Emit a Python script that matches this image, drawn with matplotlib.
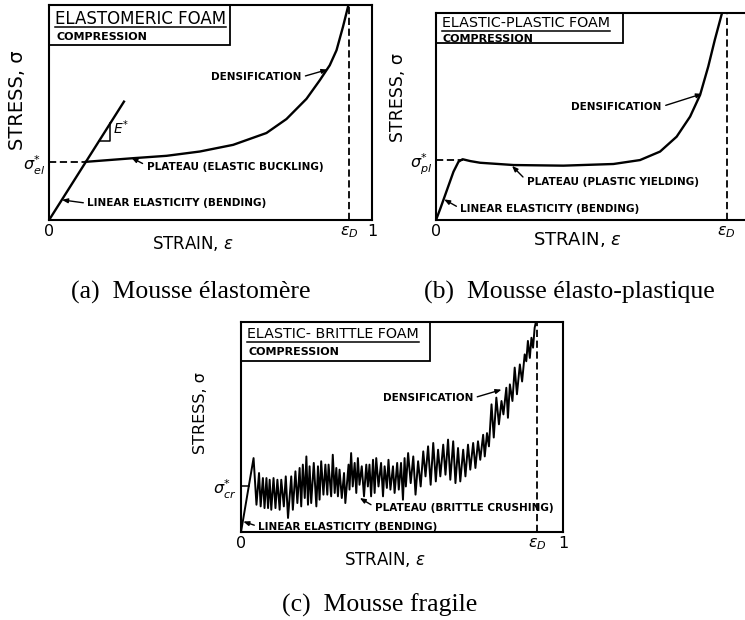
import matplotlib
matplotlib.use('Agg')
import matplotlib.pyplot as plt
from matplotlib.patches import Rectangle

plt.rcParams['font.family'] = ['DejaVu Sans']
plt.rcParams['mathtext.fontset'] = 'dejavusans'

# ---- (a) mousse élastomère ----
a_lin_x = [0.0, 0.232]
a_lin_y = [0.0, 0.551]
a_x = [0.114, 0.261, 0.364, 0.467, 0.570, 0.673, 0.735, 0.797, 0.838, 0.869, 0.890, 0.910, 0.926]
a_y = [0.271, 0.288, 0.299, 0.319, 0.350, 0.405, 0.470, 0.564, 0.650, 0.720, 0.790, 0.899, 0.995]
a_sigma = 0.271
a_epsd = 0.929

# ---- (b) mousse élasto-plastique ----
b_x = [0.0, 0.014, 0.035, 0.056, 0.072, 0.085, 0.110, 0.141, 0.248, 0.407, 0.567, 0.652,
       0.716, 0.769, 0.812, 0.844, 0.870, 0.891, 0.913]
b_y = [0.0, 0.056, 0.145, 0.234, 0.282, 0.294, 0.285, 0.277, 0.266, 0.263, 0.271, 0.290,
       0.331, 0.403, 0.500, 0.605, 0.742, 0.871, 0.995]
b_sigma = 0.29
b_epsd = 0.929

# ---- (c) mousse fragile (courbe en dents de scie) ----
c_x = [0.000, 0.039, 0.048, 0.056, 0.061, 0.068, 0.073, 0.079, 0.084, 0.089, 0.094, 0.101,
       0.107, 0.113, 0.120, 0.125, 0.133, 0.139, 0.146, 0.156, 0.161, 0.169, 0.175, 0.182,
       0.187, 0.192, 0.198, 0.203, 0.208, 0.213, 0.218, 0.226, 0.234, 0.239, 0.244, 0.249,
       0.256, 0.262, 0.268, 0.272, 0.280, 0.285, 0.291, 0.296, 0.301, 0.306, 0.313, 0.320,
       0.324, 0.334, 0.337, 0.342, 0.347, 0.353, 0.358, 0.363, 0.368, 0.375, 0.382, 0.389,
       0.394, 0.399, 0.404, 0.410, 0.415, 0.420, 0.427, 0.435, 0.441, 0.446, 0.453, 0.458,
       0.464, 0.472, 0.477, 0.485, 0.490, 0.497, 0.503, 0.508, 0.512, 0.519, 0.527, 0.535,
       0.542, 0.550, 0.558, 0.566, 0.573, 0.581, 0.589, 0.597, 0.605, 0.612, 0.619, 0.628,
       0.635, 0.643, 0.650, 0.659, 0.666, 0.674, 0.681, 0.690, 0.697, 0.705, 0.712, 0.721,
       0.728, 0.736, 0.743, 0.752, 0.757, 0.764, 0.770, 0.778, 0.785, 0.793, 0.801, 0.809,
       0.815, 0.824, 0.829, 0.835, 0.843, 0.850, 0.857, 0.866, 0.873, 0.881, 0.886, 0.891,
       0.897, 0.902, 0.907, 0.912, 0.920]
c_y = [0.000, 0.352, 0.130, 0.281, 0.122, 0.257, 0.114, 0.257, 0.114, 0.249, 0.106, 0.257,
       0.114, 0.249, 0.106, 0.249, 0.122, 0.265, 0.067, 0.265, 0.106, 0.289, 0.138, 0.305,
       0.122, 0.321, 0.162, 0.360, 0.130, 0.313, 0.138, 0.329, 0.122, 0.313, 0.154, 0.337,
       0.178, 0.321, 0.178, 0.321, 0.170, 0.368, 0.186, 0.305, 0.170, 0.297, 0.162, 0.281,
       0.138, 0.321, 0.202, 0.376, 0.217, 0.329, 0.186, 0.352, 0.225, 0.313, 0.170, 0.321,
       0.217, 0.321, 0.170, 0.344, 0.186, 0.352, 0.217, 0.329, 0.170, 0.313, 0.210, 0.344,
       0.202, 0.313, 0.186, 0.329, 0.202, 0.329, 0.154, 0.352, 0.217, 0.376, 0.233, 0.360,
       0.178, 0.337, 0.217, 0.384, 0.265, 0.408, 0.225, 0.424, 0.241, 0.392, 0.265, 0.416,
       0.273, 0.440, 0.249, 0.432, 0.233, 0.400, 0.241, 0.392, 0.265, 0.416, 0.297, 0.424,
       0.305, 0.432, 0.344, 0.463, 0.360, 0.471, 0.408, 0.608, 0.450, 0.640, 0.513, 0.624,
       0.560, 0.687, 0.544, 0.703, 0.624, 0.783, 0.656, 0.798, 0.717, 0.846, 0.813, 0.910,
       0.829, 0.925, 0.878, 0.973, 1.030]
c_sigma = 0.217
c_epsd = 0.92

LW = 1.7
ARROW = dict(arrowstyle='-|>,head_length=0.45,head_width=0.18', lw=1.0, color='black',
             shrinkA=1, shrinkB=0)

fig = plt.figure(figsize=(7.45, 6.2), dpi=100)
ax_a = fig.add_axes([0.0658, 0.645, 0.4336, 0.3468])
ax_b = fig.add_axes([0.5852, 0.645, 0.4201, 0.3339])
ax_c = fig.add_axes([0.3235, 0.1419, 0.4322, 0.3387])

underlines = []


def setup(ax, title, tsize, box, ty, uy, cy, sig, sig_lab, epsd, ylab, xlab, show_one=True):
    ax.set_xlim(0, 1)
    ax.set_ylim(0, 1)
    for s in ax.spines.values():
        s.set_linewidth(1.5)
    ticks = [0, epsd, 1] if show_one else [0, epsd]
    labels = ['0', r'$\epsilon_D$', '1'] if show_one else ['0', r'$\epsilon_D$']
    ax.set_xticks(ticks)
    ax.set_xticklabels(labels)
    ax.set_yticks([sig])
    ax.set_yticklabels([sig_lab], fontsize=12)
    ax.tick_params(length=0, labelsize=11.5, pad=3)
    ax.axvline(epsd, color='black', lw=1.3, ls=(0, (4, 2)))
    ysize, yx, yy = ylab
    ax.set_ylabel('STRESS, σ', fontsize=ysize)
    ax.yaxis.set_label_coords(yx, yy)
    xsize, xx, xy = xlab
    ax.set_xlabel(r'STRAIN, $\epsilon$', fontsize=xsize, labelpad=0)
    ax.xaxis.set_label_coords(xx, xy)
    bw, bh = box
    ax.add_patch(Rectangle((0, 1 - bh), bw, bh, transform=ax.transAxes, fill=False,
                           lw=1.3, ec='black', clip_on=False, zorder=5))
    t = ax.text(0.018, ty, title, transform=ax.transAxes, fontsize=tsize, va='center')
    ax.text(0.022, cy, 'COMPRESSION', transform=ax.transAxes, fontsize=8,
            fontweight='bold', va='center')
    underlines.append((ax, t, uy))


def note(ax, txt, xy, xytext, ha, relpos):
    ax.annotate(txt, xy=xy, xytext=xytext, fontsize=7.5, fontweight='bold', ha=ha,
                va='center', arrowprops=dict(ARROW, relpos=relpos))


# (a)
setup(ax_a, 'ELASTOMERIC FOAM', 12, (0.56, 0.187), 0.935, 0.897, 0.852,
      a_sigma, r'$\sigma^{*}_{el}$', a_epsd, (14, -0.068, 0.556), (12, 0.446, -0.065))
ax_a.plot(a_lin_x, a_lin_y, color='black', lw=LW)
ax_a.plot(a_x, a_y, color='black', lw=LW)
ax_a.plot([0, a_x[0]], [a_sigma, a_sigma], color='black', lw=1.3, ls=(0, (4, 2)))
slope = a_lin_y[1] / a_lin_x[1]
tri_y0, tri_dx = 0.369, 0.034
tri_x0 = tri_y0 / slope
ax_a.plot([tri_x0, tri_x0 + tri_dx, tri_x0 + tri_dx],
          [tri_y0, tri_y0, slope * (tri_x0 + tri_dx)], color='black', lw=1.1)
ax_a.text(tri_x0 + tri_dx + 0.01, tri_y0 + 0.06, r'$E^{*}$', fontsize=10, va='center')
note(ax_a, 'DENSIFICATION', (0.862, 0.70), (0.781, 0.665), 'right', (1, 0.5))
note(ax_a, 'PLATEAU (ELASTIC BUCKLING)', (0.255, 0.29), (0.302, 0.249), 'left', (0, 0.6))
note(ax_a, 'LINEAR ELASTICITY (BENDING)', (0.040, 0.094), (0.119, 0.078), 'left', (0, 0.5))

# (b)
setup(ax_b, 'ELASTIC-PLASTIC FOAM', 10.3, (0.599, 0.145), 0.952, 0.914, 0.876,
      b_sigma, r'$\sigma^{*}_{pl}$', b_epsd, (12.5, -0.093, 0.594), (13, 0.45, -0.05),
      show_one=False)
ax_b.spines['right'].set_visible(False)
ax_b.plot(b_x, b_y, color='black', lw=LW)
ax_b.plot([0, b_x[5]], [b_sigma, b_sigma], color='black', lw=1.3, ls=(0, (4, 2)))
note(ax_b, 'DENSIFICATION', (0.85, 0.61), (0.721, 0.548), 'right', (1, 0.5))
note(ax_b, 'PLATEAU (PLASTIC YIELDING)', (0.243, 0.262), (0.29, 0.185), 'left', (0, 0.6))
note(ax_b, 'LINEAR ELASTICITY (BENDING)', (0.026, 0.10), (0.078, 0.056), 'left', (0, 0.5))

# (c)
setup(ax_c, 'ELASTIC- BRITTLE FOAM', 10.3, (0.586, 0.187), 0.945, 0.907, 0.857,
      c_sigma, r'$\sigma^{*}_{cr}$', c_epsd, (11.5, -0.102, 0.567), (12, 0.447, -0.085))
ax_c.plot(c_x, c_y, color='black', lw=1.4)
ax_c.plot([0, c_sigma / c_y[1] * c_x[1]], [c_sigma, c_sigma], color='black', lw=1.1)
note(ax_c, 'DENSIFICATION', (0.809, 0.678), (0.721, 0.638), 'right', (1, 0.5))
note(ax_c, 'PLATEAU (BRITTLE CRUSHING)', (0.369, 0.162), (0.416, 0.114), 'left', (0, 0.6))
note(ax_c, 'LINEAR ELASTICITY (BENDING)', (0.007, 0.05), (0.054, 0.026), 'left', (0, 0.5))

# soulignement des titres
fig.canvas.draw()
for ax, t, uy in underlines:
    bb = t.get_window_extent()
    inv = ax.transAxes.inverted()
    x0 = inv.transform((bb.x0, 0))[0]
    x1 = inv.transform((bb.x1, 0))[0]
    ax.plot([x0, x1], [uy, uy], transform=ax.transAxes, color='black', lw=1.1,
            clip_on=False)

cap = dict(fontsize=18.5, family=['Liberation Serif', 'DejaVu Serif'], ha='center', va='center')
fig.text(0.256, 0.529, '(a)  Mousse élastomère', **cap)
fig.text(0.764, 0.529, '(b)  Mousse élasto-plastique', **cap)
fig.text(0.510, 0.024, '(c)  Mousse fragile', **cap)

fig.savefig('out.png', dpi=100)
